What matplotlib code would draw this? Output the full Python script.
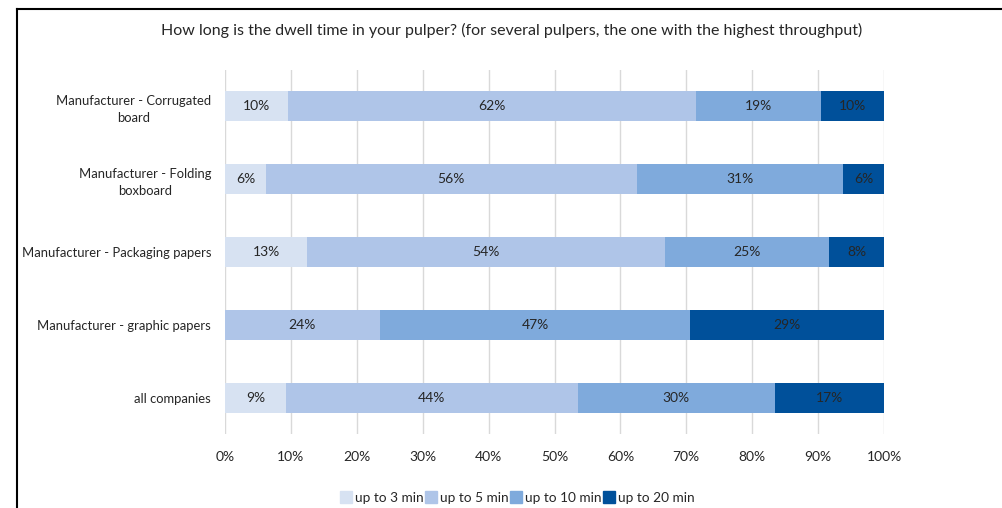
import matplotlib.pyplot as plt
from matplotlib.lines import Line2D
import numpy as np

# data (shares in %, rows top to bottom)
categories = [
    "Manufacturer - Corrugated\nboard",
    "Manufacturer - Folding\nboxboard",
    "Manufacturer - Packaging papers",
    "Manufacturer - graphic papers",
    "all companies",
]
series_names = ["up to 3 min", "up to 5 min", "up to 10 min", "up to 20 min"]
up_to_3 = [9.5, 6.2, 12.5, 0.0, 9.2]
up_to_5 = [61.9, 56.3, 54.2, 23.5, 44.4]
up_to_10 = [19.1, 31.3, 25.0, 47.1, 29.8]
up_to_20 = [9.5, 6.2, 8.3, 29.4, 16.6]

colors = ["#D7E2F2", "#AFC5E8", "#7FAADC", "#00509A"]

plt.rcParams["font.family"] = ["Lato", "DejaVu Sans"]

fig = plt.figure(figsize=(10.03, 5.08), dpi=100)
ax = fig.add_axes([225 / 1003, 1 - 434 / 508, 659 / 1003, 364 / 508])

y = np.arange(len(categories))
left = np.zeros(len(categories))
for name, vals, c in zip(series_names, [up_to_3, up_to_5, up_to_10, up_to_20], colors):
    vals = np.array(vals)
    ax.barh(y, vals, left=left, height=0.41, color=c, label=name, zorder=3)
    for yi, l, v in zip(y, left, vals):
        if v > 0:
            ax.text(l + v / 2, yi, f"{int(v + 0.5)}%", ha="center", va="center",
                    fontsize=10, color="#262626", zorder=4)
    left += vals

ax.set_xlim(0, 100)
ax.set_ylim(len(categories) - 0.5, -0.5)
ax.set_xticks(np.arange(0, 101, 10))
ax.set_xticklabels([f"{t}%" for t in range(0, 101, 10)])
ax.set_yticks(y)
ax.set_yticklabels(categories, ha="right", multialignment="center", linespacing=1.45)
ax.tick_params(axis="both", length=0, labelsize=10, colors="#262626")
ax.tick_params(axis="y", pad=10, labelsize=9.4)
ax.tick_params(axis="x", pad=12)
ax.grid(axis="x", color="#D9D9D9", linewidth=1, zorder=0)
for s in ax.spines.values():
    s.set_visible(False)

fig.text(512 / 1003, 1 - 30 / 508,
         "How long is the dwell time in your pulper? (for several pulpers, the one with the highest throughput)",
         ha="center", va="center", fontsize=11.5, color="#262626")

handles = [Line2D([], [], marker="s", linestyle="none", markersize=8,
                  markerfacecolor=c, markeredgecolor=c) for c in colors]
fig.legend(handles, series_names, loc="center", bbox_to_anchor=(518 / 1003, 1 - 498 / 508),
           ncol=4, frameon=False, fontsize=9.8, handlelength=0.7, handletextpad=0.3,
           columnspacing=0.2, labelcolor="#262626")

# frame on left and top edges
fig.add_artist(Line2D([17 / 1003, 17 / 1003], [0, 1 - 9 / 508], color="black", linewidth=1.5,
                      transform=fig.transFigure))
fig.add_artist(Line2D([17 / 1003, 1], [1 - 9 / 508, 1 - 9 / 508], color="black", linewidth=1.5,
                      transform=fig.transFigure))

fig.savefig("out.png", dpi=100)
